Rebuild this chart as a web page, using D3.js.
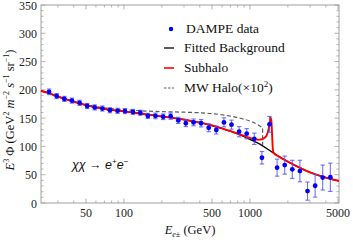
<!DOCTYPE html>
<html>
<head>
<meta charset="utf-8">
<script src="https://cdn.jsdelivr.net/npm/d3@7"></script>
<style>
  body { margin: 0; background: #fff; }
  svg { display: block; font-family: "Liberation Serif", "DejaVu Serif", serif; }
</style>
</head>
<body>
<div id="chart"></div>
<script>
// DAMPE data points (GeV, E^3 flux)
const dataE = [25.5, 29.3, 33.7, 38.7, 44.5, 51.1, 58.7, 67.5, 77.5, 89.1, 102, 118, 135, 155, 178, 205, 235, 270, 310, 357, 410, 471, 541, 622, 714, 821, 943, 1083, 1245, 1430, 1643, 1888, 2169, 2492, 2864, 3291, 3781, 4345];
const dataFlux = [196.5, 189, 184, 181, 177, 171.5, 169, 167, 164, 163, 162.5, 161, 159.5, 154, 154, 152.5, 153.5, 146, 141, 142.5, 141, 133, 129, 142.5, 138.5, 126, 122.5, 113.5, 80, 139, 62.5, 67, 59.5, 56.5, 21, 30.5, 45, 45.5];
const dataErr = [5, 4.5, 4.5, 4.5, 4.5, 4.5, 4.5, 4.5, 4.5, 4.5, 4.5, 4.5, 4.5, 4.5, 5, 5, 5.5, 5.5, 6, 6, 6.5, 7, 7, 8, 8, 9, 9, 10, 11, 14, 15, 16, 16, 19, 16, 20, 22, 25];

// fitted background
const bgE = [22, 25, 30, 40, 50, 70, 100, 150, 200, 300, 400, 500, 600, 700, 800, 1000, 1200, 1500, 2000, 2500, 3000, 4000, 5090];
const bgFlux = [198, 194.5, 188, 179, 173, 166, 162, 156.5, 153, 147.5, 142, 137, 132, 127, 122, 112.5, 104, 90, 73, 62, 54, 45, 39];

// subhalo (background + line feature)
const subE = [22, 25, 30, 40, 50, 70, 100, 150, 200, 300, 400, 500, 600, 700, 800, 900, 1000, 1100, 1200, 1300, 1360, 1410, 1440, 1460, 1480, 1500, 1520, 1540, 1700, 2000, 2500, 3000, 4000, 5090];
const subFlux = [198, 194.5, 188, 179, 173, 166, 162, 156.5, 153, 147.5, 142, 137, 132, 127, 122.5, 118.5, 115, 112.5, 112, 115, 120, 132, 145, 151, 145, 120, 95, 88.5, 82, 73, 62, 54, 45, 39];

// MW halo (x10^2)
const haloE = [22, 30, 40, 50, 70, 100, 150, 200, 300, 400, 500, 600, 700, 800, 900, 1000, 1100, 1200, 1260, 1262];
const haloFlux = [198, 188.5, 179.5, 174, 168, 165, 162.5, 161.5, 160.5, 159.5, 158, 156, 153.5, 151, 148, 145, 141, 136, 132, 103];

const xMajor = [50, 100, 500, 1000, 5000];
const xMinor = [30, 40, 60, 70, 80, 90, 200, 300, 400, 600, 700, 800, 900, 2000, 3000, 4000];
const yMajor = [0, 50, 100, 150, 200, 250, 300, 350];

const width = 353, height = 240;
const mLeft = 41, mRight = 339, mTop = 5, mBottom = 203;

const svg = d3.select("#chart").append("svg")
    .attr("width", width)
    .attr("height", height);

const x = d3.scaleLog().domain([22, 5090]).range([mLeft, mRight]);
const y = d3.scaleLinear().domain([0, 350]).range([mBottom, mTop]);

const frameColor = "#a0a0a0";

// frame
svg.append("rect")
    .attr("x", mLeft).attr("y", mTop)
    .attr("width", mRight - mLeft).attr("height", mBottom - mTop)
    .attr("fill", "none").attr("stroke", frameColor).attr("stroke-width", 1);

// ticks, inward on all four sides
const g = svg.append("g").attr("stroke", frameColor).attr("stroke-width", 0.8);
function xTick(v, len) {
    g.append("line").attr("x1", x(v)).attr("x2", x(v)).attr("y1", mBottom).attr("y2", mBottom - len);
    g.append("line").attr("x1", x(v)).attr("x2", x(v)).attr("y1", mTop).attr("y2", mTop + len);
}
function yTick(v, len) {
    g.append("line").attr("x1", mLeft).attr("x2", mLeft + len).attr("y1", y(v)).attr("y2", y(v));
    g.append("line").attr("x1", mRight).attr("x2", mRight - len).attr("y1", y(v)).attr("y2", y(v));
}
xMajor.forEach(v => xTick(v, 4.5));
xMinor.forEach(v => xTick(v, 2.5));
d3.range(0, 351, 10).forEach(v => yTick(v, v % 50 === 0 ? 4.5 : 2.5));

// tick labels
svg.selectAll(".xl").data(xMajor).enter().append("text")
    .attr("x", d => x(d)).attr("y", 217)
    .attr("text-anchor", "middle")
    .style("font-size", "12px").attr("fill", "#222")
    .text(d => d);

svg.selectAll(".yl").data(yMajor).enter().append("text")
    .attr("x", 37).attr("y", d => y(d) + 4.5)
    .attr("text-anchor", "end")
    .style("font-size", "12px").attr("fill", "#222")
    .text(d => d);

// curves
const line = d3.line()
    .x(d => x(d[0]))
    .y(d => y(d[1]))
    .curve(d3.curveMonotoneX);

svg.append("path")
    .attr("d", line(haloE.map((e, i) => [e, haloFlux[i]])))
    .attr("fill", "none").attr("stroke", "#5a5a5a").attr("stroke-width", 1.2)
    .attr("stroke-dasharray", "4,2.5");

svg.append("path")
    .attr("d", line(bgE.map((e, i) => [e, bgFlux[i]])))
    .attr("fill", "none").attr("stroke", "#000").attr("stroke-width", 1.3);

svg.append("path")
    .attr("d", line(subE.map((e, i) => [e, subFlux[i]])))
    .attr("fill", "none").attr("stroke", "#f00").attr("stroke-width", 1.9);

// data with error bars
const pts = dataE.map((e, i) => ({ e: e, v: dataFlux[i], err: dataErr[i] }));
const eb = svg.append("g").attr("stroke", "#4d4dff").attr("stroke-width", 1.1).attr("stroke-opacity", 0.8);
pts.forEach(p => {
    const px = x(p.e);
    eb.append("line").attr("x1", px).attr("x2", px).attr("y1", y(p.v - p.err)).attr("y2", y(p.v + p.err));
    eb.append("line").attr("x1", px - 2.2).attr("x2", px + 2.2).attr("y1", y(p.v - p.err)).attr("y2", y(p.v - p.err));
    eb.append("line").attr("x1", px - 2.2).attr("x2", px + 2.2).attr("y1", y(p.v + p.err)).attr("y2", y(p.v + p.err));
});
svg.selectAll(".pt").data(pts).enter().append("circle")
    .attr("cx", d => x(d.e)).attr("cy", d => y(d.v))
    .attr("r", 2.4).attr("fill", "#0000ff");

// legend
const lg = svg.append("g").style("font-size", "13.5px").attr("fill", "#111");
lg.append("circle").attr("cx", 171).attr("cy", 29).attr("r", 2.2).attr("fill", "#0000ff");
lg.append("text").attr("x", 186).attr("y", 33).text("DAMPE data");

const legendLines = [
    { label: "Fitted Background", color: "#000", dash: null, w: 1.3 },
    { label: "Subhalo", color: "#f00", dash: null, w: 1.6 },
    { label: "MW Halo(×10", color: "#5a5a5a", dash: "2.5,1.5", w: 1.1 }
];
legendLines.forEach((d, i) => {
    const ly = 48 + i * 20;
    lg.append("line").attr("x1", 164).attr("x2", 174).attr("y1", ly).attr("y2", ly)
        .attr("stroke", d.color).attr("stroke-width", d.w)
        .attr("stroke-dasharray", d.dash);
    const t = lg.append("text").attr("x", 184).attr("y", ly + 4).text(d.label);
    if (i === 2) {
        t.append("tspan").attr("dy", -5).style("font-size", "9px").text("2");
        t.append("tspan").attr("dy", 5).text(")");
    }
});

// annotation
const ann = svg.append("text").attr("x", 72).attr("y", 169)
    .style("font-size", "12.5px").style("font-style", "italic")
    .style("font-family", "'Liberation Sans', sans-serif").attr("fill", "#111");
ann.append("tspan").text("χχ → e");
ann.append("tspan").attr("dy", -5).style("font-size", "8px").text("+");
ann.append("tspan").attr("dy", 5).text("e");
ann.append("tspan").attr("dy", -5).style("font-size", "8px").text("−");

// x label
const xl = svg.append("text").attr("x", 190).attr("y", 234)
    .attr("text-anchor", "middle").style("font-size", "12.5px").attr("fill", "#111");
xl.append("tspan").style("font-style", "italic").text("E");
xl.append("tspan").attr("dy", 3).style("font-size", "8px").style("font-style", "italic").text("e±");
xl.append("tspan").attr("dy", -3).text(" (GeV)");

// y label
const yl = svg.append("text")
    .attr("transform", "translate(14,110) rotate(-90)")
    .attr("text-anchor", "middle").style("font-size", "12.5px").attr("fill", "#111");
yl.append("tspan").style("font-style", "italic").text("E");
yl.append("tspan").attr("dy", -5).style("font-size", "8px").text("3");
yl.append("tspan").attr("dy", 5).text(" Φ (GeV");
yl.append("tspan").attr("dy", -5).style("font-size", "8px").text("2");
yl.append("tspan").attr("dy", 5).style("font-style", "italic").text(" m");
yl.append("tspan").attr("dy", -5).style("font-size", "8px").text("−2");
yl.append("tspan").attr("dy", 5).style("font-style", "italic").text(" s");
yl.append("tspan").attr("dy", -5).style("font-size", "8px").text("−1");
yl.append("tspan").attr("dy", 5).text(" sr");
yl.append("tspan").attr("dy", -5).style("font-size", "8px").text("−1");
yl.append("tspan").attr("dy", 5).text(")");
</script>
</body>
</html>
